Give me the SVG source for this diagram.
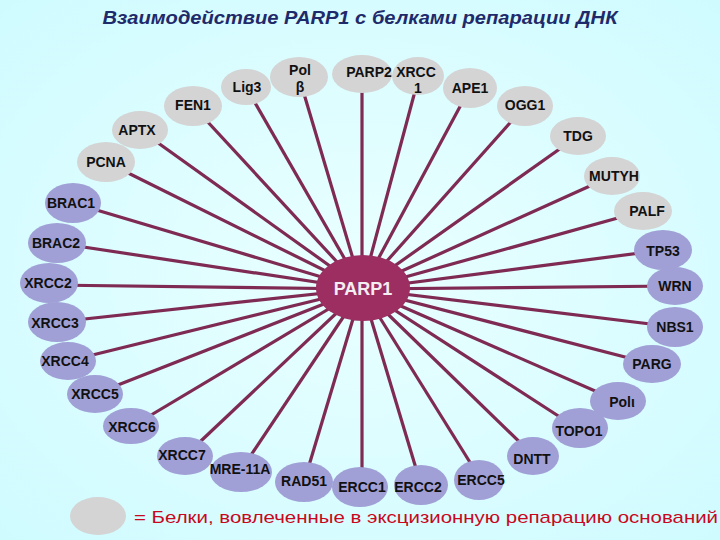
<svg xmlns="http://www.w3.org/2000/svg" width="720" height="540" viewBox="0 0 720 540">
<defs>
<style>
.g{fill:#D4D4D4}
.p{fill:#A0A0D6}
.t{font-family:"Liberation Sans",Arial,sans-serif;font-weight:bold;font-size:14px;fill:#111;text-anchor:middle}
.c line{stroke:#7E2A52;stroke-width:3.2;stroke-linecap:butt}
</style>
<radialGradient id="bg" cx="50%" cy="50%" r="70%">
<stop offset="0" stop-color="#EAFFFF"/>
<stop offset="1" stop-color="#CFFBFF"/>
</radialGradient>
</defs>
<rect width="720" height="540" fill="url(#bg)"/>
<text x="360" y="24" font-family="Liberation Sans,Arial,sans-serif" font-weight="bold" font-style="italic" font-size="19" fill="#1F2A6B" text-anchor="middle" textLength="515" lengthAdjust="spacingAndGlyphs">Взаимодействие PARP1 с белками репарации ДНК</text>
<g id="connectors" class="c">
<line x1="362" y1="289" x2="246" y2="87"/>
<line x1="362" y1="289" x2="299" y2="77"/>
<line x1="362" y1="289" x2="362" y2="74"/>
<line x1="362" y1="289" x2="418" y2="80"/>
<line x1="362" y1="289" x2="470" y2="88"/>
<line x1="362" y1="289" x2="525" y2="106"/>
<line x1="362" y1="289" x2="193" y2="106"/>
<line x1="362" y1="289" x2="140" y2="130"/>
<line x1="362" y1="289" x2="106" y2="162"/>
<line x1="362" y1="289" x2="73" y2="203"/>
<line x1="362" y1="289" x2="57" y2="243"/>
<line x1="362" y1="289" x2="49" y2="285"/>
<line x1="362" y1="289" x2="57" y2="322"/>
<line x1="362" y1="289" x2="68" y2="361"/>
<line x1="362" y1="289" x2="95" y2="394"/>
<line x1="362" y1="289" x2="131" y2="427"/>
<line x1="362" y1="289" x2="185" y2="456"/>
<line x1="362" y1="289" x2="241" y2="470"/>
<line x1="362" y1="289" x2="304" y2="482"/>
<line x1="362" y1="289" x2="362" y2="487"/>
<line x1="362" y1="289" x2="421" y2="485"/>
<line x1="362" y1="289" x2="481" y2="480"/>
<line x1="362" y1="289" x2="534" y2="456"/>
<line x1="362" y1="289" x2="580" y2="430"/>
<line x1="362" y1="289" x2="618" y2="401"/>
<line x1="362" y1="289" x2="652" y2="364"/>
<line x1="362" y1="289" x2="675" y2="327"/>
<line x1="362" y1="289" x2="675" y2="286"/>
<line x1="362" y1="289" x2="663" y2="250"/>
<line x1="362" y1="289" x2="643" y2="211"/>
<line x1="362" y1="289" x2="612" y2="176"/>
<line x1="362" y1="289" x2="578" y2="136"/>
</g>
<g id="n-lig3"><ellipse class="g" cx="246" cy="87" rx="25" ry="18"/><text class="t" x="247" y="92">Lig3</text></g>
<g id="n-polb"><ellipse class="g" cx="299" cy="77" rx="29" ry="20"/><text class="t" x="300" y="75">Pol</text><text class="t" x="300" y="92">β</text></g>
<g id="n-parp2"><ellipse class="g" cx="362" cy="74" rx="30" ry="19"/><text class="t" x="369" y="77">PARP2</text></g>
<g id="n-xrcc1"><ellipse class="g" cx="418" cy="76" rx="26" ry="19"/><text class="t" x="416" y="77">XRCC</text><text class="t" x="418" y="93">1</text></g>
<g id="n-ape1"><ellipse class="g" cx="470" cy="88" rx="27" ry="20"/><text class="t" x="470" y="93">APE1</text></g>
<g id="n-ogg1"><ellipse class="g" cx="525" cy="106" rx="28" ry="20"/><text class="t" x="525" y="110">OGG1</text></g>
<g id="n-fen1"><ellipse class="g" cx="193" cy="106" rx="29" ry="20"/><text class="t" x="193" y="110">FEN1</text></g>
<g id="n-aptx"><ellipse class="g" cx="140" cy="130" rx="28" ry="19"/><text class="t" x="137" y="135">APTX</text></g>
<g id="n-pcna"><ellipse class="g" cx="106" cy="162" rx="29" ry="20"/><text class="t" x="106" y="167">PCNA</text></g>
<g id="n-brac1"><ellipse class="p" cx="73" cy="203" rx="28" ry="20"/><text class="t" x="71" y="208">BRAC1</text></g>
<g id="n-brac2"><ellipse class="p" cx="57" cy="243" rx="29" ry="20"/><text class="t" x="56" y="248">BRAC2</text></g>
<g id="n-xrcc2"><ellipse class="p" cx="49" cy="283" rx="29" ry="20"/><text class="t" x="48" y="288">XRCC2</text></g>
<g id="n-xrcc3"><ellipse class="p" cx="57" cy="322" rx="29" ry="20"/><text class="t" x="55" y="328">XRCC3</text></g>
<g id="n-xrcc4"><ellipse class="p" cx="68" cy="361" rx="28" ry="19"/><text class="t" x="65" y="366">XRCC4</text></g>
<g id="n-xrcc5"><ellipse class="p" cx="95" cy="394" rx="28" ry="19"/><text class="t" x="95" y="399">XRCC5</text></g>
<g id="n-xrcc6"><ellipse class="p" cx="131" cy="426" rx="28" ry="18"/><text class="t" x="132" y="432">XRCC6</text></g>
<g id="n-xrcc7"><ellipse class="p" cx="185" cy="456" rx="28" ry="19"/><text class="t" x="182" y="460">XRCC7</text></g>
<g id="n-mre11a"><ellipse class="p" cx="241" cy="472" rx="31" ry="20"/><text class="t" x="240" y="474">MRE-11A</text></g>
<g id="n-rad51"><ellipse class="p" cx="304" cy="482" rx="29" ry="20"/><text class="t" x="304" y="486">RAD51</text></g>
<g id="n-ercc1"><ellipse class="p" cx="360" cy="487" rx="28" ry="20"/><text class="t" x="362" y="492">ERCC1</text></g>
<g id="n-ercc2"><ellipse class="p" cx="421" cy="485" rx="27" ry="20"/><text class="t" x="418" y="492">ERCC2</text></g>
<g id="n-ercc5"><ellipse class="p" cx="479" cy="480" rx="25" ry="20"/><text class="t" x="481" y="485">ERCC5</text></g>
<g id="n-dntt"><ellipse class="p" cx="533" cy="456" rx="26" ry="19"/><text class="t" x="532" y="464">DNTT</text></g>
<g id="n-topo1"><ellipse class="p" cx="580" cy="428" rx="28" ry="20"/><text class="t" x="579" y="436">TOPO1</text></g>
<g id="n-poli"><ellipse class="p" cx="618" cy="401" rx="28" ry="19"/><text class="t" x="622" y="407">Polι</text></g>
<g id="n-parg"><ellipse class="p" cx="652" cy="364" rx="29" ry="19"/><text class="t" x="652" y="369">PARG</text></g>
<g id="n-nbs1"><ellipse class="p" cx="675" cy="327" rx="28" ry="20"/><text class="t" x="675" y="332">NBS1</text></g>
<g id="n-wrn"><ellipse class="p" cx="675" cy="286" rx="28" ry="19"/><text class="t" x="675" y="291">WRN</text></g>
<g id="n-tp53"><ellipse class="p" cx="663" cy="250" rx="29" ry="20"/><text class="t" x="663" y="256">TP53</text></g>
<g id="n-palf"><ellipse class="g" cx="643" cy="211" rx="29" ry="19"/><text class="t" x="647" y="216">PALF</text></g>
<g id="n-mutyh"><ellipse class="g" cx="612" cy="176" rx="28" ry="19"/><text class="t" x="614" y="181">MUTYH</text></g>
<g id="n-tdg"><ellipse class="g" cx="578" cy="136" rx="28" ry="19"/><text class="t" x="578" y="141">TDG</text></g>
<g id="n-parp1"><ellipse cx="363" cy="288" rx="47" ry="33" fill="#9C2E62"/><text x="363" y="295" font-family="Liberation Sans,Arial,sans-serif" font-weight="bold" font-size="18" fill="#F4EEF2" text-anchor="middle">PARP1</text></g>
<g id="legend"><ellipse class="g" cx="98" cy="516" rx="28" ry="19"/><text x="134" y="523" font-family="Liberation Sans,Arial,sans-serif" font-size="17" fill="#C8081C" textLength="584" lengthAdjust="spacingAndGlyphs">= Белки, вовлеченные в эксцизионную репарацию оснований</text></g>
</svg>
